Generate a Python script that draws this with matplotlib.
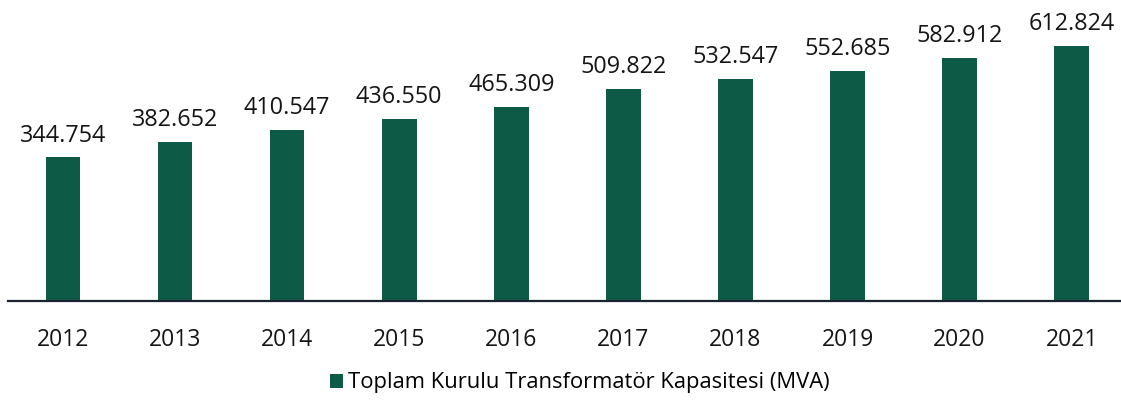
import matplotlib.pyplot as plt
from matplotlib.patches import Patch

years = ["2012", "2013", "2014", "2015", "2016", "2017", "2018", "2019", "2020", "2021"]
capacity = [344.754, 382.652, 410.547, 436.550, 465.309, 509.822, 532.547, 552.685, 582.912, 612.824]
value_labels = ["344.754", "382.652", "410.547", "436.550", "465.309",
                "509.822", "532.547", "552.685", "582.912", "612.824"]
legend_label = "Toplam Kurulu Transformatör Kapasitesi (MVA)"

bar_color = "#0d5a46"
plt.rcParams["font.family"] = ["Open Sans", "DejaVu Sans"]

fig = plt.figure(figsize=(11.21, 4.01), dpi=100)
ax = fig.add_axes([8 / 1121, 0.249, 1 - 8 / 1121, 0.751])

x = list(range(len(years)))
ax.bar(x, capacity, width=0.31, color=bar_color)
for xi, v, lab in zip(x, capacity, value_labels):
    ax.annotate(lab, (xi, v), xytext=(0, 7), textcoords="offset points",
                ha="center", va="bottom", fontsize=16.8, color="#151515")

ax.set_xlim(-0.49, 9.44)
ax.set_ylim(0, 722)
ax.set_xticks(x)
ax.set_xticklabels(years, fontsize=16.5, color="#151515")
ax.tick_params(axis="x", length=0, pad=19)
ax.set_yticks([])
for s in ["top", "right", "left"]:
    ax.spines[s].set_visible(False)
ax.spines["bottom"].set_color("#1c2330")
ax.spines["bottom"].set_linewidth(1.6)

handle = Patch(facecolor=bar_color, edgecolor="none")
fig.legend([handle], [legend_label], loc="center", bbox_to_anchor=(0.517, 0.045),
           frameon=False, fontsize=15.8, handlelength=0.6, handleheight=0.6,
           handletextpad=0.2)

fig.savefig("out.png", dpi=100, facecolor="white")
